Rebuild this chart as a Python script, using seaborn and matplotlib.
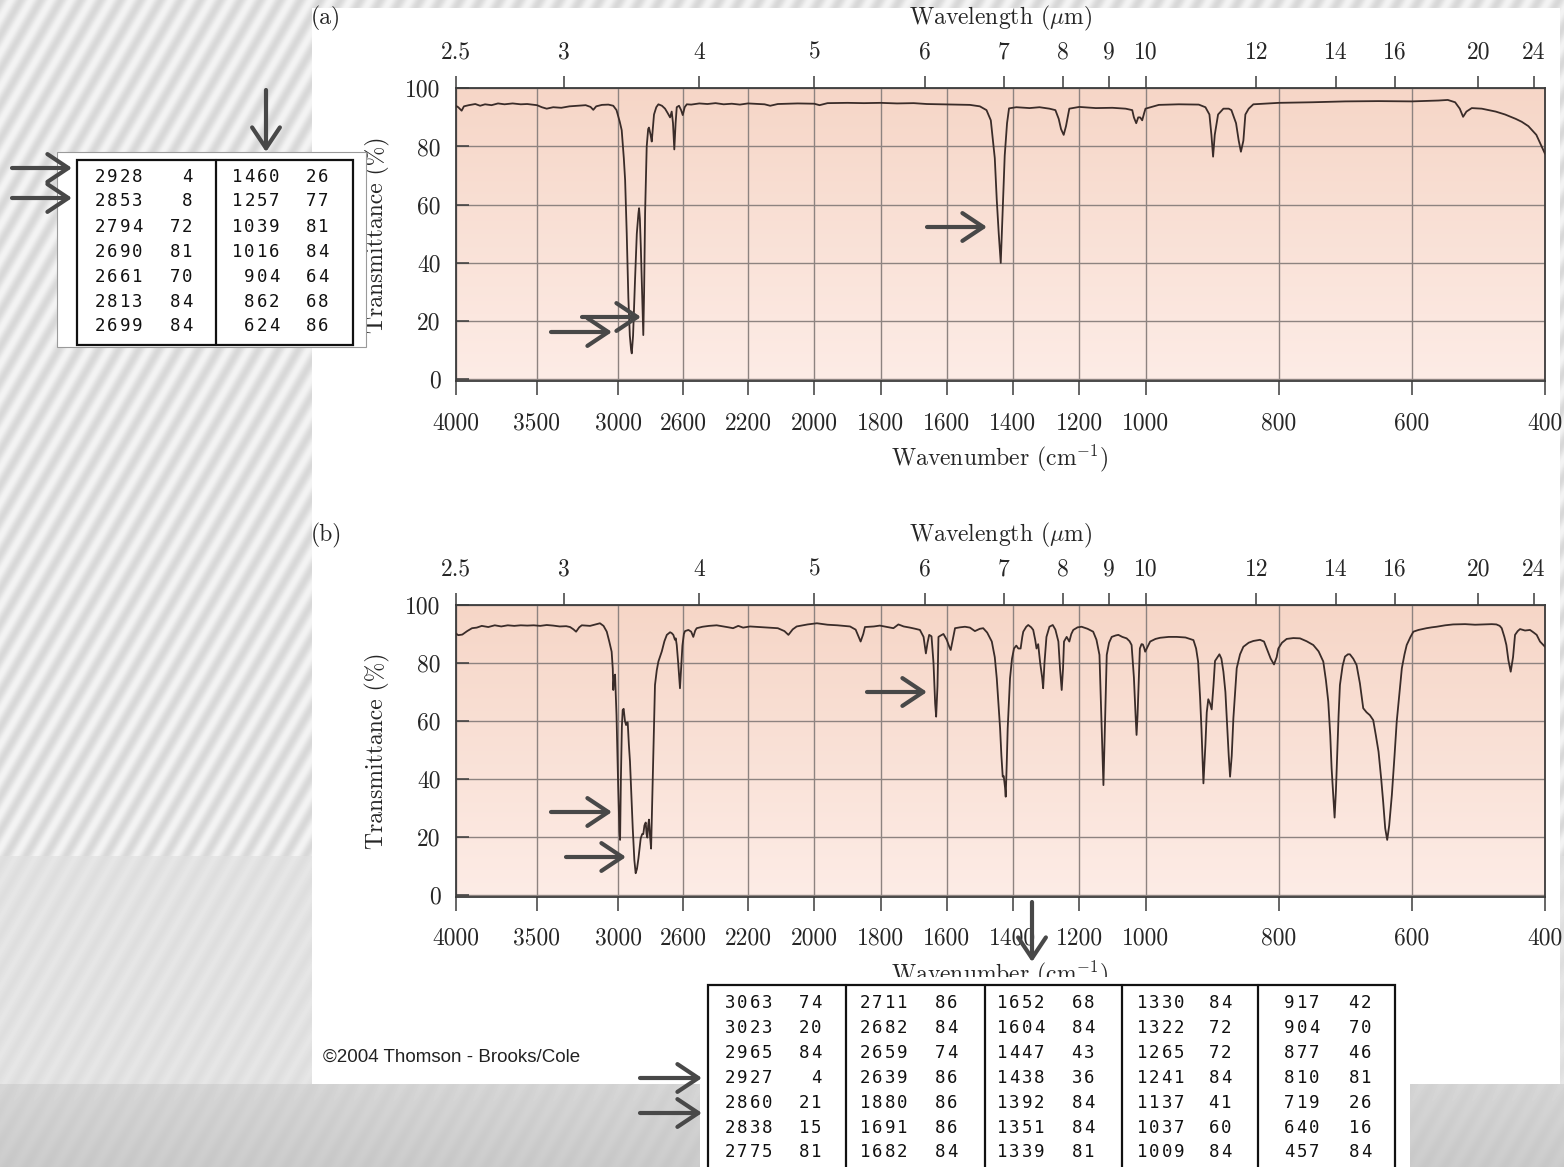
import numpy as np
import pandas as pd
import matplotlib
matplotlib.use("Agg")
import matplotlib.pyplot as plt
import seaborn as sns
from matplotlib.patches import Rectangle, FancyArrowPatch, ArrowStyle
from matplotlib.lines import Line2D
from matplotlib.colors import LinearSegmentedColormap

# ---------------- data ----------------
wn_a = [4000, 3985, 3964, 3950, 3920, 3880, 3850, 3820, 3780, 3740, 3700, 3650, 3600, 3560, 3500, 3470,
        3440, 3400, 3350, 3300, 3250, 3200, 3170, 3153, 3135, 3100, 3060, 3030, 3010, 2990, 2978, 2965,
        2957, 2947, 2937, 2928, 2920, 2916, 2908, 2896, 2885, 2875, 2871, 2866, 2860, 2855, 2848, 2845,
        2840, 2834, 2824, 2815, 2810, 2800, 2793, 2785, 2779, 2765, 2752, 2730, 2711, 2695, 2680, 2670,
        2662, 2654, 2646, 2639, 2625, 2612, 2602, 2590, 2577, 2550, 2500, 2450, 2400, 2350, 2300, 2250,
        2200, 2150, 2133, 2110, 2050, 2000, 1984, 1960, 1900, 1850, 1800, 1750, 1700, 1660, 1620, 1580,
        1530, 1500, 1480, 1467, 1455, 1449, 1443, 1437, 1432, 1425, 1418, 1412, 1390, 1350, 1320, 1290,
        1272, 1262, 1255, 1247, 1240, 1230, 1200, 1150, 1100, 1060, 1040, 1035, 1028, 1022, 1016, 1010,
        1004, 1000, 980, 950, 920, 910, 904, 901, 898.5, 896, 891, 883, 875, 871, 864, 860, 856.7, 853,
        850, 845, 838, 800, 750, 700, 650, 600, 560, 546, 535, 528, 523, 518, 510, 495, 474, 460, 444,
        435, 425, 413, 404, 400]
t_a = [94.0, 93.5, 92.3, 93.8, 94.2, 94.6, 94.0, 94.5, 94.2, 94.8, 94.5, 94.8, 94.5, 94.6, 94.2, 93.5,
       93.0, 93.5, 93.3, 93.8, 94.0, 94.2, 93.6, 92.6, 93.8, 94.3, 94.4, 94.0, 92.5, 88.5, 85.6, 76.0,
       68.5, 50.0, 28.0, 15.0, 10.0, 8.9, 15.0, 34.0, 50.0, 57.0, 58.8, 55.0, 45.0, 35.0, 20.0, 15.2,
       30.0, 57.0, 80.0, 86.0, 86.5, 84.0, 81.7, 87.0, 91.0, 93.5, 94.5, 94.0, 93.0, 91.5, 90.0, 92.0,
       88.0, 79.0, 88.0, 93.5, 94.0, 92.5, 90.8, 93.5, 94.5, 94.4, 94.8, 94.6, 94.9, 94.5, 94.7, 94.4,
       94.8, 94.5, 94.0, 94.6, 94.8, 94.7, 94.2, 94.9, 95.0, 94.9, 95.0, 94.8, 94.9, 94.6, 94.5, 94.4,
       94.3, 93.8, 92.5, 89.0, 76.0, 61.6, 50.0, 40.0, 55.0, 76.9, 88.0, 93.1, 93.5, 93.2, 93.5, 93.0,
       92.5, 89.5, 86.0, 84.0, 87.0, 93.0, 93.6, 93.2, 93.3, 93.0, 92.5, 90.0, 88.0, 90.0, 90.0, 89.0,
       91.5, 93.0, 94.3, 94.5, 94.4, 93.5, 91.0, 84.0, 76.5, 84.0, 91.0, 93.0, 93.0, 92.5, 88.0, 82.0,
       78.2, 82.0, 91.0, 93.0, 94.5, 95.0, 95.2, 95.5, 95.6, 95.5, 95.8, 96.0, 95.2, 93.0, 90.2, 92.0,
       93.2, 93.0, 92.0, 91.0, 89.5, 88.5, 87.0, 84.0, 79.5, 77.5]

wn_b = [4000, 3985, 3960, 3930, 3900, 3871, 3840, 3800, 3760, 3720, 3680, 3640, 3600, 3560, 3520, 3480,
        3440, 3400, 3360, 3320, 3296, 3275, 3259, 3240, 3224, 3200, 3173, 3140, 3112, 3090, 3070, 3055,
        3040, 3033, 3030, 3025, 3019, 3010, 3000, 2992, 2988, 2983, 2977, 2972, 2966, 2958, 2951, 2945,
        2941, 2934, 2927, 2918, 2910, 2900, 2892, 2884, 2875, 2861, 2852, 2845, 2838, 2830, 2825, 2820,
        2815, 2810, 2803, 2797, 2792, 2787, 2780, 2773, 2762, 2752, 2740, 2731, 2715, 2700, 2680, 2670,
        2660, 2650, 2645, 2639, 2630, 2619, 2612, 2604, 2595, 2588, 2567, 2550, 2537, 2525, 2516, 2480,
        2440, 2393, 2350, 2320, 2292, 2260, 2230, 2194, 2150, 2110, 2090, 2078, 2065, 2053, 2020, 1992,
        1960, 1930, 1892, 1875, 1866, 1860, 1852, 1847, 1820, 1802, 1780, 1761, 1746, 1730, 1711, 1695,
        1681, 1670, 1663, 1658, 1653, 1646, 1640, 1635, 1632, 1628, 1625, 1618, 1610, 1600, 1592, 1588,
        1582, 1575, 1560, 1545, 1530, 1515, 1500, 1490, 1478, 1464, 1455, 1449, 1444, 1439, 1435, 1431,
        1428, 1424, 1422, 1419, 1416, 1409, 1403, 1397, 1390, 1384, 1377, 1372, 1369, 1360, 1354, 1345,
        1339, 1333, 1329, 1324, 1318, 1312, 1309, 1305, 1299, 1290, 1280, 1272, 1263, 1258, 1253, 1249,
        1246, 1238, 1230, 1224, 1218, 1205, 1193, 1175, 1158, 1148, 1139, 1133, 1127, 1122, 1117, 1110,
        1102, 1090, 1082, 1070, 1057, 1048, 1042, 1035, 1030, 1027, 1024, 1017, 1012, 1008, 1004, 1001,
        996, 993, 985, 978, 965, 953, 940, 928, 924, 921, 918, 916, 913, 910, 908, 905.7, 903, 900.6,
        898, 895.6, 889, 886, 883, 880, 878, 875, 873, 870.5, 868, 865, 863, 858, 853, 845, 838, 828,
        822, 818, 812, 807, 803, 800.5, 795, 788, 778, 768, 758, 748, 740, 733, 729, 725.5, 722.5, 720.5,
        718, 716, 714, 712, 710, 708, 704, 700.4, 696, 693, 688, 683, 678, 673, 668, 663, 658, 654, 650,
        646, 643, 640, 637, 634, 630, 626, 622.7, 618, 615, 611, 607.7, 602, 597.7, 590, 578, 570, 563,
        550, 538, 520, 505, 493, 480, 473, 468, 465, 461, 458, 455, 451.5, 448, 445, 441, 437.5, 430,
        422.5, 417, 412.5, 407.5, 403, 400]
t_b = [90.2, 89.6, 89.8, 91.0, 92.0, 92.2, 92.8, 92.4, 93.0, 92.6, 93.0, 92.8, 93.0, 92.9, 93.0, 92.8,
       93.1, 92.9, 92.6, 92.7, 92.4, 91.6, 90.8, 92.3, 93.0, 92.9, 92.8, 93.3, 93.7, 92.8, 90.8, 87.5,
       83.9, 78.0, 70.7, 75.0, 76.0, 62.0, 38.0, 22.0, 19.0, 40.0, 58.0, 63.8, 64.2, 60.0, 58.6, 59.5,
       59.5, 52.0, 46.0, 34.0, 23.0, 12.0, 7.5, 9.0, 12.6, 19.5, 21.0, 21.0, 24.0, 25.0, 21.0, 19.8,
       24.0, 26.0, 20.0, 16.0, 28.0, 40.0, 58.0, 72.4, 77.5, 80.5, 82.5, 84.0, 87.5, 89.7, 90.6, 90.3,
       89.7, 88.0, 88.5, 86.2, 80.0, 71.3, 78.0, 86.0, 90.0, 91.0, 91.4, 90.8, 89.0, 91.2, 92.0, 92.5,
       92.8, 93.0, 92.6, 92.3, 92.0, 92.8, 92.2, 92.6, 92.3, 92.0, 91.0, 89.7, 91.6, 92.6, 93.3, 93.7,
       93.2, 93.0, 92.6, 91.5, 89.0, 87.4, 90.0, 92.4, 92.6, 92.9, 92.4, 92.0, 93.3, 92.6, 92.2, 91.8,
       91.4, 89.0, 83.3, 87.0, 89.7, 89.2, 80.0, 66.0, 61.5, 72.0, 89.0, 89.5, 90.0, 88.0, 85.5, 84.5,
       88.0, 92.0, 92.3, 92.5, 92.2, 91.0, 91.8, 92.0, 90.5, 87.4, 82.0, 74.7, 66.0, 57.5, 48.0, 40.8,
       41.0, 37.0, 33.9, 45.0, 57.5, 74.7, 81.5, 85.0, 86.0, 85.0, 85.0, 89.0, 90.8, 92.5, 93.1, 92.3,
       91.4, 88.0, 85.0, 86.5, 80.0, 75.0, 71.3, 80.0, 89.0, 92.5, 93.1, 91.5, 87.4, 78.0, 70.7, 78.0,
       87.4, 89.0, 87.4, 90.0, 91.4, 92.3, 92.5, 91.8, 90.8, 88.0, 82.8, 60.0, 37.9, 60.0, 82.8, 87.0,
       89.0, 89.5, 89.7, 89.0, 88.5, 87.5, 86.2, 75.0, 62.0, 55.2, 62.0, 85.0, 86.5, 86.4, 85.2, 83.9,
       86.0, 87.4, 88.3, 88.7, 89.0, 89.0, 88.8, 87.9, 85.0, 80.5, 68.0, 57.5, 38.5, 52.0, 63.0, 67.5,
       66.0, 64.0, 72.0, 80.7, 83.0, 81.5, 77.0, 70.0, 61.0, 48.0, 40.8, 48.0, 61.0, 71.0, 78.2, 83.0,
       85.6, 87.0, 87.6, 88.0, 87.4, 85.0, 81.5, 79.5, 82.0, 85.0, 87.0, 88.3, 88.6, 88.5, 87.5, 86.2,
       84.0, 80.5, 74.0, 66.7, 55.0, 43.7, 34.0, 26.7, 36.0, 49.4, 62.0, 72.4, 79.0, 82.2, 83.0, 83.0,
       81.5, 79.3, 73.0, 64.4, 63.0, 62.0, 60.3, 55.0, 49.4, 40.0, 32.0, 23.0, 19.0, 24.0, 34.5, 48.0,
       59.8, 71.0, 78.2, 83.0, 86.2, 89.0, 90.8, 91.4, 92.0, 92.3, 92.5, 93.0, 93.3, 93.4, 93.2, 93.3,
       93.4, 93.3, 92.8, 92.0, 89.0, 86.2, 81.0, 77.0, 82.0, 89.7, 91.0, 91.7, 91.2, 91.4, 90.5, 89.7,
       87.4, 86.3, 85.6]

wn_ticks = [4000, 3500, 3000, 2600, 2200, 2000, 1800, 1600, 1400, 1200, 1000, 800, 600, 400]
wl_ticks = [2.5, 3, 4, 5, 6, 7, 8, 9, 10, 12, 14, 16, 20, 24]
t_ticks = [0, 20, 40, 60, 80, 100]

table_a_cols = [
    [("2928", "4"), ("2853", "8"), ("2794", "72"), ("2690", "81"), ("2661", "70"), ("2813", "84"), ("2699", "84")],
    [("1460", "26"), ("1257", "77"), ("1039", "81"), ("1016", "84"), ("904", "64"), ("862", "68"), ("624", "86")],
]
table_b_cols = [
    [("3063", "74"), ("3023", "20"), ("2965", "84"), ("2927", "4"), ("2860", "21"), ("2838", "15"), ("2775", "81")],
    [("2711", "86"), ("2682", "84"), ("2659", "74"), ("2639", "86"), ("1880", "86"), ("1691", "86"), ("1682", "84")],
    [("1652", "68"), ("1604", "84"), ("1447", "43"), ("1438", "36"), ("1392", "84"), ("1351", "84"), ("1339", "81")],
    [("1330", "84"), ("1322", "72"), ("1265", "72"), ("1241", "84"), ("1137", "41"), ("1037", "60"), ("1009", "84")],
    [("917", "42"), ("904", "70"), ("877", "46"), ("810", "81"), ("719", "26"), ("640", "16"), ("457", "84")],
]

# ---------------- style ----------------
sns.set_theme(style="white")
plt.rcParams["font.family"] = ["cmr10", "DejaVu Serif"]
plt.rcParams["mathtext.fontset"] = "cm"
plt.rcParams["axes.formatter.use_mathtext"] = True

W, H = 1564, 1167
fig = plt.figure(figsize=(W / 100, H / 100), dpi=100)


def fx(px):
    return px / W


def fy(py):
    return 1 - py / H


# ---------------- slide background ----------------
bg = fig.add_axes([0, 0, 1, 1], zorder=-10)
bg.set_axis_off()
yy, xx = np.mgrid[0:H, 0:W].astype(float)
u = 0.866 * xx + 0.5 * yy
s = 0.5 + 0.5 * np.cos(2 * np.pi * u / 17.3)
base = np.where(yy < 856, 0.955, np.where(yy < 1084, 0.90, 0.84 - 0.04 * (yy - 1084) / 83))
amp = np.where(yy < 856, 0.11, np.where(yy < 1084, 0.03, 0.02))
img = base - amp * s
bg.imshow(img, cmap="gray", vmin=0, vmax=1, aspect="auto", extent=[0, W, H, 0], interpolation="bilinear")
bg.set_xlim(0, W)
bg.set_ylim(H, 0)

fig.add_artist(Rectangle((fx(312), fy(1084)), fx(1560) - fx(312), fy(8) - fy(1084),
                         transform=fig.transFigure, facecolor="white", edgecolor="none", zorder=-5))

# ---------------- nonlinear wavenumber scale (piecewise linear) ----------------
WN_BREAKS = np.array([400.0, 1000.0, 2200.0, 4000.0])
POS_BREAKS = np.array([0.0, 399.5, 797.0, 1089.2])
S_LO = (POS_BREAKS[1] - POS_BREAKS[0]) / (WN_BREAKS[1] - WN_BREAKS[0])
S_HI = (POS_BREAKS[-1] - POS_BREAKS[-2]) / (WN_BREAKS[-1] - WN_BREAKS[-2])


def wn_fwd(w):
    w = np.asarray(w, dtype=float)
    out = np.interp(w, WN_BREAKS, POS_BREAKS)
    out = np.where(w < WN_BREAKS[0], POS_BREAKS[0] + (w - WN_BREAKS[0]) * S_LO, out)
    out = np.where(w > WN_BREAKS[-1], POS_BREAKS[-1] + (w - WN_BREAKS[-1]) * S_HI, out)
    return out


def wn_inv(p):
    p = np.asarray(p, dtype=float)
    out = np.interp(p, POS_BREAKS, WN_BREAKS)
    out = np.where(p < POS_BREAKS[0], WN_BREAKS[0] + (p - POS_BREAKS[0]) / S_LO, out)
    out = np.where(p > POS_BREAKS[-1], WN_BREAKS[-1] + (p - POS_BREAKS[-1]) / S_HI, out)
    return out


grad_cmap = LinearSegmentedColormap.from_list("pinkgrad", ["#fdece6", "#f6d6c7"])
LINE_C = "#3a2c29"
GRID_C = "#8d8380"
FRAME_C = "#3c3c3c"
FS = 17


def make_panel(top_px, zero_px, wn, tr, tag, title_y, xlabel_y):
    ppu = (zero_px - top_px) / 100.0
    bot_px = zero_px + 0.7 * ppu
    rect = [fx(455.8), fy(bot_px), fx(1545) - fx(455.8), fy(top_px) - fy(bot_px)]
    gax = fig.add_axes(rect, zorder=-1)
    gax.set_axis_off()
    gax.imshow(np.linspace(0, 1, 256).reshape(-1, 1), cmap=grad_cmap, aspect="auto",
               extent=[0, 1, 0, 1], origin="lower")
    gax.set_xlim(0, 1)
    gax.set_ylim(0, 1)

    ax = fig.add_axes(rect, zorder=1)
    ax.set_facecolor("none")
    ax.set_xscale("function", functions=(wn_fwd, wn_inv))
    df = pd.DataFrame({"wn": wn, "T": tr})
    sns.lineplot(data=df, x="wn", y="T", ax=ax, sort=False, estimator=None,
                 color=LINE_C, linewidth=1.3, zorder=5)
    ax.set_xlim(4000, 400)
    ax.set_ylim(-0.7, 100)
    ax.set_xticks(wn_ticks)
    ax.set_xticklabels([str(v) for v in wn_ticks])
    ax.set_yticks(t_ticks)
    ax.set_yticklabels([str(v) for v in t_ticks])
    ax.grid(True, color=GRID_C, linewidth=1.0)
    ax.set_xlabel("")
    ax.set_ylabel("Transmittance (%)", fontsize=FS)
    ax.yaxis.set_label_coords((390 - 455.8) / 1089.2, 0.5)
    for sp in ax.spines.values():
        sp.set_color(FRAME_C)
        sp.set_linewidth(1.3)

    # top wavelength axis: independent x axis with the same nonlinear scale
    tw = ax.twiny()
    tw.set_xscale("function", functions=(wn_fwd, wn_inv))
    tw.set_xlim(4000, 400)
    tw.set_xticks([1e4 / l for l in wl_ticks])
    tw.set_xticklabels([("%g" % l) for l in wl_ticks])
    tw.grid(False)
    tw.tick_params(axis="x", direction="out", length=8.5, width=1.1, pad=9, labelsize=FS,
                   color=FRAME_C, top=True, bottom=False)
    for sp in tw.spines.values():
        sp.set_visible(False)

    ax.tick_params(axis="x", direction="out", length=10, width=1.1, pad=12, labelsize=FS,
                   color=FRAME_C, bottom=True, top=False)
    ax.tick_params(axis="y", direction="in", length=9, width=1.1, pad=11, labelsize=FS,
                   color=FRAME_C, left=True, right=False)

    fig.text(fx(311), fy(title_y), tag, fontsize=FS, ha="left", va="center")
    fig.text(fx(1000), fy(title_y), r"Wavelength ($\mu$m)", fontsize=FS, ha="center", va="center")
    fig.text(fx(1000), fy(xlabel_y), r"Wavenumber (cm$^{-1}$)", fontsize=FS, ha="center",
             va="center", zorder=3)
    return ax


ax_a = make_panel(88.3, 379.3, wn_a, t_a, "(a)", 18, 458)
ax_b = make_panel(605.0, 895.0, wn_b, t_b, "(b)", 535, 974)

# ---------------- peak tables ----------------
PITCH = 12.2


def draw_num(x_right, y, s):
    for i, ch in enumerate(reversed(s)):
        fig.text(fx(x_right - PITCH * (i + 0.5)), fy(y), ch, ha="center", va="center",
                 family="DejaVu Sans Mono", fontsize=12.5, color="#111111", zorder=12)


def frame_rect(x0, y0, x1, y1, fc, ec, lw, z):
    fig.add_artist(Rectangle((fx(x0), fy(y1)), fx(x1) - fx(x0), fy(y0) - fy(y1),
                             transform=fig.transFigure, facecolor=fc, edgecolor=ec,
                             linewidth=lw, zorder=z))


def vline(x, y0, y1, lw=1.6):
    fig.add_artist(Line2D([fx(x), fx(x)], [fy(y0), fy(y1)], transform=fig.transFigure,
                          color="#111111", linewidth=lw, zorder=11))


# table (a)
frame_rect(57, 152, 366, 347, "white", "#9a9a9a", 0.8, 9)
frame_rect(77, 160, 353, 345, "none", "#111111", 1.6, 11)
vline(216, 160, 345)
rows_a = [177, 201, 227, 252, 277, 301.5, 326]
col_pos_a = [(143, 193), (280, 329)]
for col, (xn, xv) in zip(table_a_cols, col_pos_a):
    for (n, v), y in zip(col, rows_a):
        draw_num(xn, y, n)
        draw_num(xv, y, v)

# table (b)
frame_rect(700, 977, 1410, 1170, "white", "none", 0, 9)
frame_rect(708, 985, 1395, 1175, "none", "#111111", 1.6, 11)
for xd in [846, 985, 1122, 1258]:
    vline(xd, 985, 1167)
rows_b = [1003, 1028, 1053, 1078, 1103, 1128, 1152]
col_pos_b = [(773, 822), (908, 958), (1045, 1095), (1185, 1232), (1320, 1372)]
for col, (xn, xv) in zip(table_b_cols, col_pos_b):
    for (n, v), y in zip(col, rows_b):
        draw_num(xn, y, n)
        draw_num(xv, y, v)

fig.text(fx(323), fy(1057), "\u00a92004 Thomson - Brooks/Cole", family="Liberation Sans",
         fontsize=13.5, ha="left", va="center", color="#222222")

# ---------------- arrows ----------------
ARW = ArrowStyle("->", head_length=0.75, head_width=0.5)


def arrow(x0, y0, x1, y1):
    fig.add_artist(FancyArrowPatch((fx(x0), fy(y0)), (fx(x1), fy(y1)), transform=fig.transFigure,
                                   arrowstyle=ARW, mutation_scale=20, linewidth=3.0,
                                   color="#484848", shrinkA=0, shrinkB=0, zorder=20))


arrow(12, 168, 72, 168)
arrow(12, 198, 72, 198)
arrow(266, 90, 266, 152)
arrow(551, 332, 612, 332)
arrow(582, 317, 641, 317)
arrow(927, 227, 987, 227)
arrow(551, 812, 612, 812)
arrow(566, 857, 626, 857)
arrow(867, 692, 927, 692)
arrow(1032, 902, 1032, 962)
arrow(640, 1078, 702, 1078)
arrow(640, 1113, 702, 1113)

fig.savefig("out.png", dpi=100)
